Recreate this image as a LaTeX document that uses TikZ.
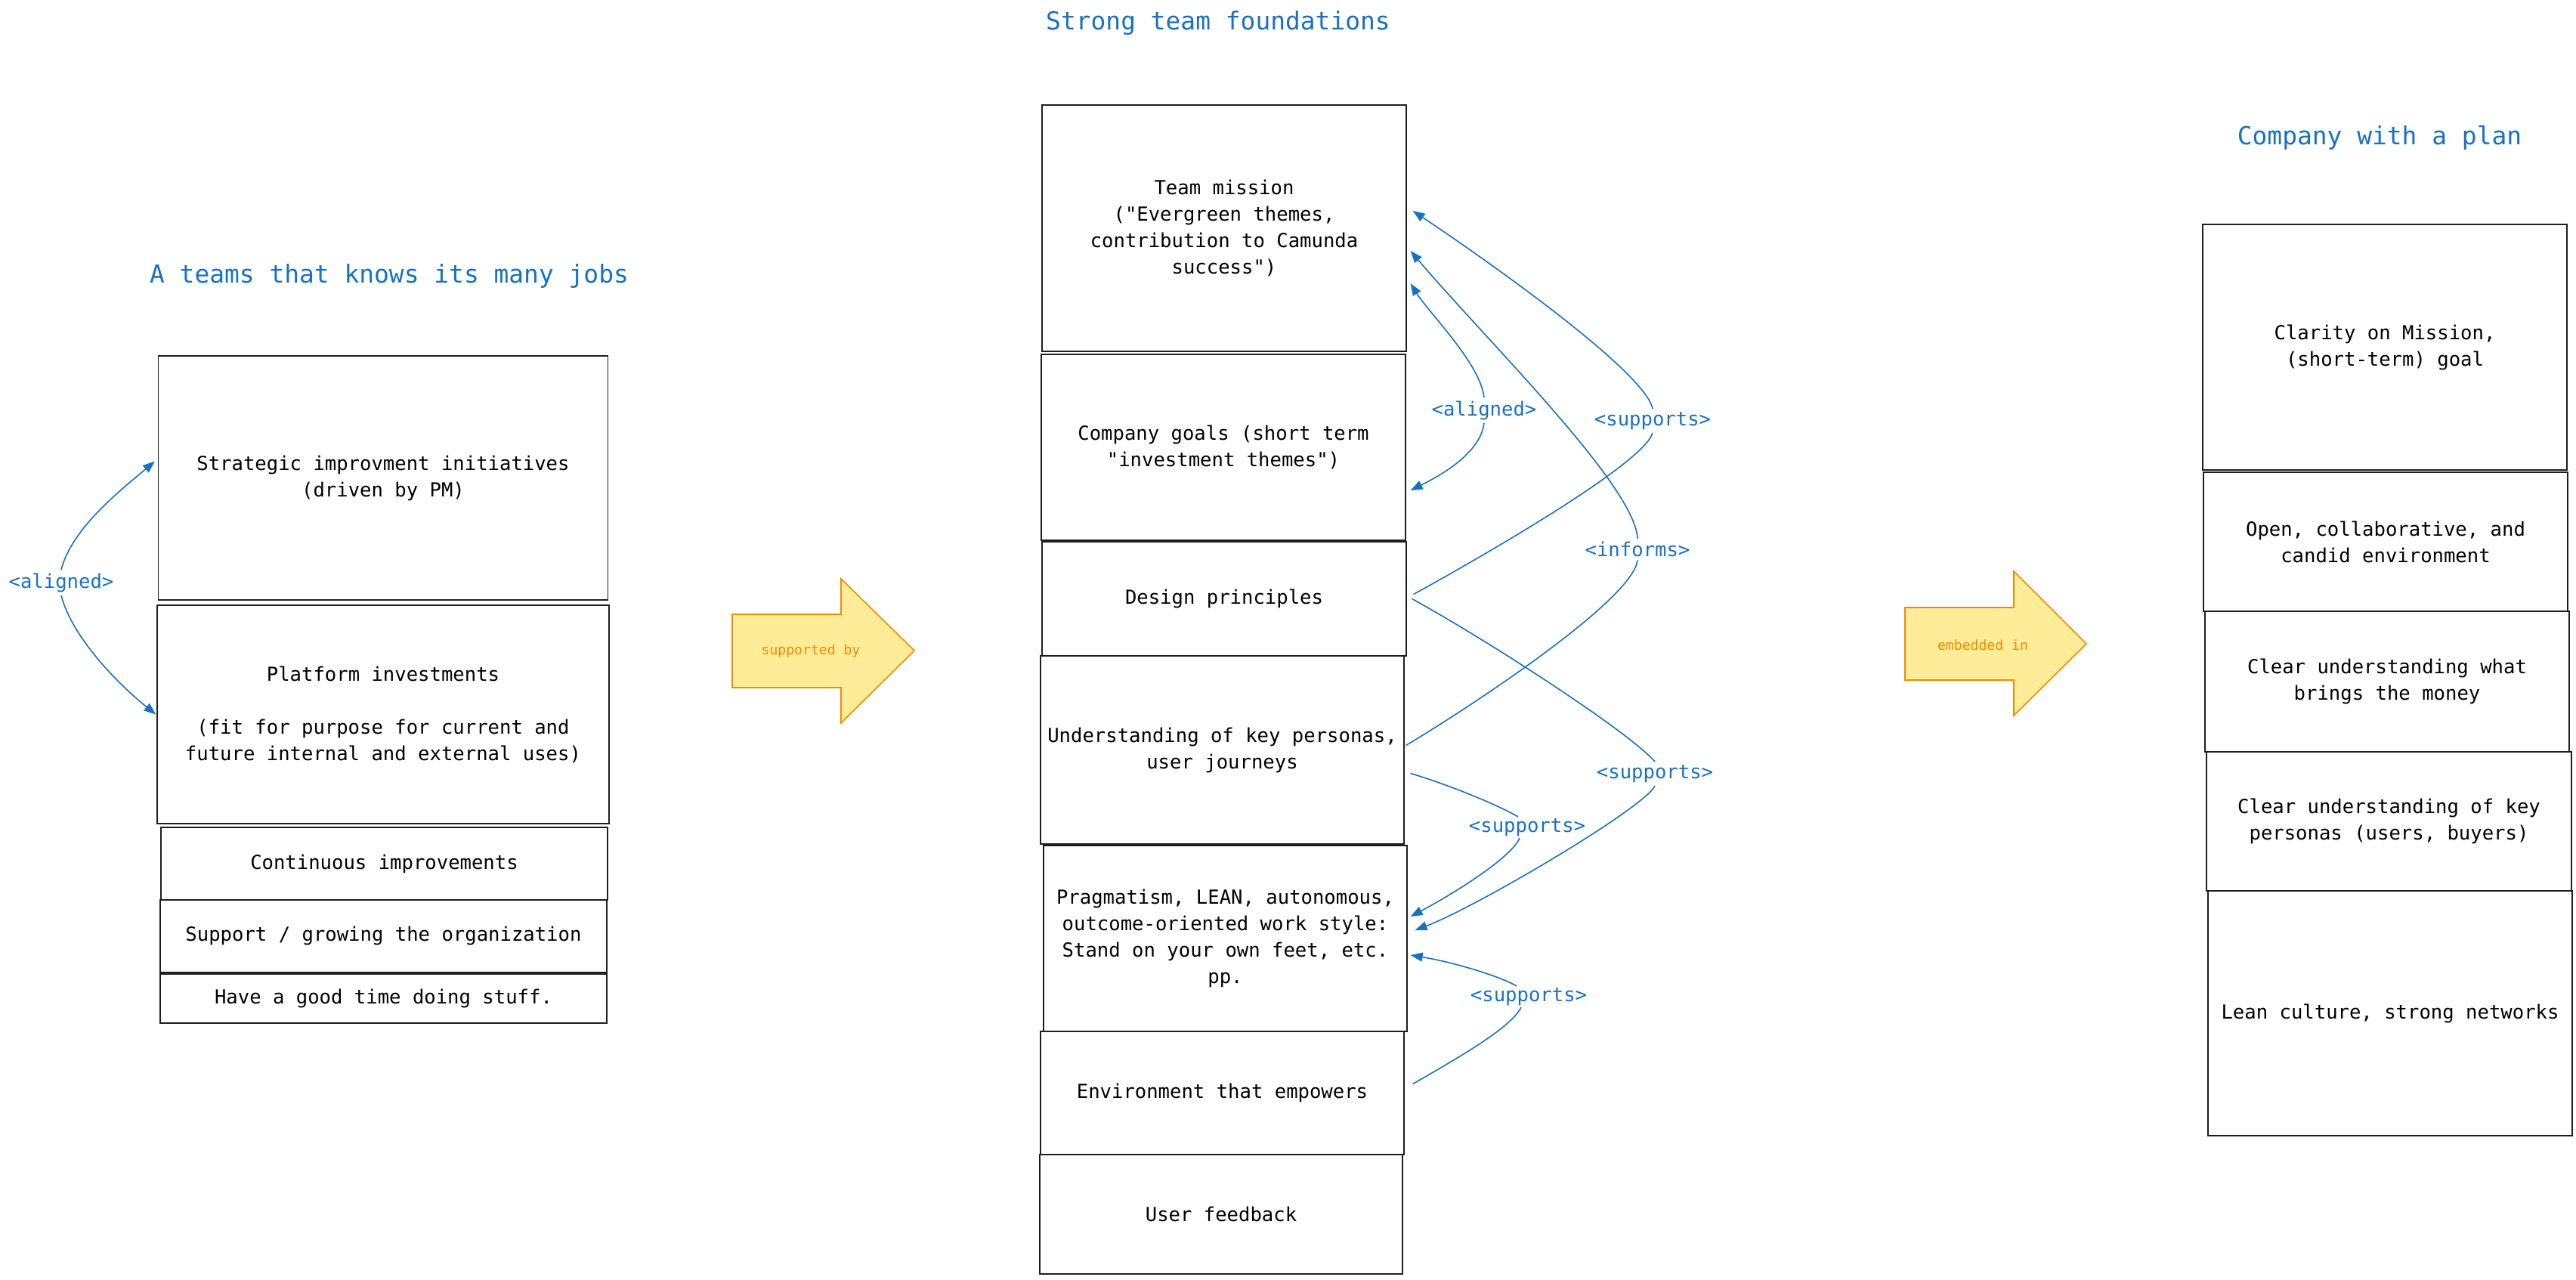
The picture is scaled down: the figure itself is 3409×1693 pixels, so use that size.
\documentclass[tikz,border=0pt]{standalone}
\usepackage{fontspec}
\setmainfont{DejaVu Sans Mono}
\usetikzlibrary{arrows.meta,calc}
\definecolor{xblue}{HTML}{1971C2}
\definecolor{xline}{HTML}{1E1E1E}
\definecolor{xfill}{HTML}{FFEC99}
\definecolor{xorange}{HTML}{F08C00}
\newcommand{\qq}{\textquotedbl{}}
\begin{document}
\begin{tikzpicture}[x=0.5pt,y=-0.5pt,
  box/.style={draw=xline, line width=0.6pt, align=center, inner sep=0pt,
    font=\fontsize{12.8}{17.5}\selectfont, text=black},
  ttl/.style={text=xblue, font=\fontsize{16.45}{20}\selectfont, inner sep=0pt},
  lbl/.style={text=xblue, font=\fontsize{12.8}{15}\selectfont, inner sep=2pt},
  conn/.style={draw=xblue, line width=0.8pt},
  endtip/.style={-{Triangle[length=8pt,width=6pt]}},
  bigarrow/.style={draw=xorange, fill=xfill, line width=0.8pt, line join=miter},
  arrowtext/.style={text=xorange, font=\fontsize{9.05}{11}\selectfont, inner sep=0pt},
]
\useasboundingbox (0,0) rectangle (3409,1693);

% titles
\node[ttl] (t1) at (515,365) {A teams that knows its many jobs};
\node[ttl] (t2) at (1612,31) {Strong team foundations};
\node[ttl] (t3) at (3149,182) {Company with a plan};

% left column
\node[box, minimum width=297.5pt, minimum height=161.5pt] (s1) at (507,632.5)
  {Strategic improvment initiatives\\(driven by PM)};
\node[box, minimum width=299pt, minimum height=144.5pt] (s2) at (507,945.5)
  {Platform investments\\[17.5pt](fit for purpose for current and\\future internal and external uses)};
\node[box, minimum width=295.5pt, minimum height=48pt] (s3) at (508.5,1143)
  {Continuous improvements};
\node[box, minimum width=295.5pt, minimum height=48pt] (s4) at (507.5,1239)
  {Support / growing the organization};
\node[box, minimum width=295.5pt, minimum height=32.5pt] (s5) at (507.5,1321.5)
  {Have a good time doing stuff.};

% middle column
\node[box, minimum width=241pt, minimum height=163pt] (m1) at (1620,302)
  {Team mission\\(\qq Evergreen themes,\\contribution to Camunda\\success\qq)};
\node[box, minimum width=241pt, minimum height=123pt] (m2) at (1619,592)
  {Company goals (short term\\\qq investment themes\qq)};
\node[box, minimum width=241pt, minimum height=75.5pt] (m3) at (1620,792.5)
  {Design principles};
\node[box, minimum width=240.5pt, minimum height=124.5pt] (m4) at (1617.5,992.5)
  {Understanding of key personas,\\user journeys};
\node[box, minimum width=240.5pt, minimum height=123pt] (m5) at (1621.5,1242)
  {Pragmatism, LEAN, autonomous,\\outcome-oriented work style:\\Stand on your own feet, etc.\\pp.};
\node[box, minimum width=240.5pt, minimum height=81.5pt] (m6) at (1617.5,1446.5)
  {Environment that empowers};
\node[box, minimum width=240pt, minimum height=79pt] (m7) at (1616,1607)
  {User feedback};

% right column
\node[box, minimum width=241pt, minimum height=162.5pt] (r1) at (3156,459.5)
  {Clarity on Mission,\\(short-term) goal};
\node[box, minimum width=241pt, minimum height=92pt] (r2) at (3157,717)
  {Open, collaborative, and\\candid environment};
\node[box, minimum width=241pt, minimum height=93pt] (r3) at (3159,902)
  {Clear understanding what\\brings the money};
\node[box, minimum width=241.5pt, minimum height=92pt] (r4) at (3161.5,1087)
  {Clear understanding of key\\personas (users, buyers)};
\node[box, minimum width=241pt, minimum height=162pt] (r5) at (3163,1341)
  {Lean culture, strong networks};

% big arrows
\draw[bigarrow] (969,813) -- (1113,813) -- (1113,766) -- (1210,861) -- (1113,957) -- (1113,910) -- (969,910) -- cycle;
\node[arrowtext] (a1) at (1073,861) {supported by};
\draw[bigarrow] (2521,804) -- (2665,804) -- (2665,756) -- (2761,852) -- (2665,947) -- (2665,900) -- (2521,900) -- cycle;
\node[arrowtext] (a2) at (2624,854) {embedded in};

% labels
\node[lbl] (la) at (81,771) {<aligned>};
\node[lbl] (lm) at (1964,543) {<aligned>};
\node[lbl] (lst) at (2187,557) {<supports>};
\node[lbl] (li) at (2167,727) {<informs>};
\node[lbl] (lsr) at (2190,1024) {<supports>};
\node[lbl] (lsm) at (2021,1095) {<supports>};
\node[lbl] (lsb) at (2023,1319) {<supports>};

% connectors
\draw[conn,endtip] (la.north) .. controls +(14,-55) and +(-45,38) .. ($(s1.west)+(-4,-22)$);
\draw[conn,endtip] (la.south) .. controls +(14,55) and +(-50,-40) .. ($(s2.west)+(-1,0)$);

\draw[conn,endtip] (lm.north) .. controls +(-5,-45) and +(25,40) .. ($(m1.east)+(5,73)$);
\draw[conn,endtip] (lm.south) .. controls +(-5,40) and +(40,-20) .. ($(m2.east)+(6,57)$);

\draw[conn,endtip] ($(m3.east)+(9,-6)$) .. controls +(100,-55) and +(-12,40) .. (lst.south)
  (lst.north) .. controls +(-10,-50) and +(90,60) .. ($(m1.east)+(8,-23)$);

\draw[conn,endtip] ($(m4.east)+(2,-6)$) .. controls +(100,-60) and +(-5,50) .. (li.south)
  (li.north) .. controls +(-3,-70) and +(100,118) .. ($(m1.east)+(5,30)$);

\draw[conn,endtip] ($(m3.east)+(7,0)$) .. controls +(100,55) and +(-35,-40) .. (lsr.north)
  (lsr.south) .. controls +(-15,30) and +(80,-30) .. ($(m5.east)+(10,-11)$);

\draw[conn,endtip] ($(m4.east)+(8,31)$) .. controls +(60,18) and +(-20,-12) .. ($(lsm.north)+(-12,2)$)
  ($(lsm.south)+(-10,-2)$) .. controls +(-10,25) and +(60,-32) .. ($(m5.east)+(4,-29)$);

\draw[conn,endtip] ($(m6.east)+(11,-12)$) .. controls +(70,-40) and +(-12,25) .. ($(lsb.south)+(-10,-2)$)
  ($(lsb.north)+(-16,2)$) .. controls +(-20,-12) and +(60,10) .. ($(m5.east)+(4,22)$);
\end{tikzpicture}
\end{document}
